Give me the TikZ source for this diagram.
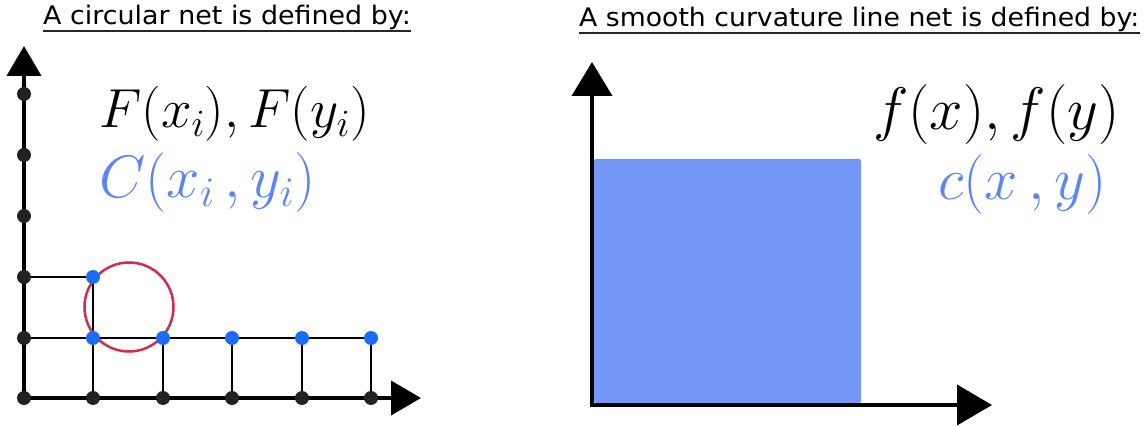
\RequirePackage{fix-cm}
\documentclass[tikz,border=0pt]{standalone}
\usepackage{fontspec}
\setsansfont{DejaVu Sans}
\usetikzlibrary{arrows.meta}
\definecolor{dotblue}{HTML}{1A6CF2}
\definecolor{txtblue}{HTML}{5B86F2}
\definecolor{rectblue}{HTML}{7497F5}
\definecolor{circred}{HTML}{D42A4E}
\definecolor{dotblack}{HTML}{222222}
\tikzset{
  axisline/.style={line width=4pt, line cap=butt},
  gridline/.style={line width=1.8pt, black},
  bdot/.style={circle, fill=dotblack, inner sep=0pt, minimum size=14pt},
  udot/.style={circle, fill=dotblue, inner sep=0pt, minimum size=14pt},
  titletext/.style={inner sep=0pt, anchor=base west, font=\sffamily\fontsize{25.5}{30}\selectfont},
  uline/.style={line width=1.8pt, black!85},
  mathtext/.style={inner sep=0pt, anchor=base west},
}
\begin{document}
\begin{tikzpicture}[x=1pt,y=-1pt]
\useasboundingbox (0,0) rectangle (1148,427);
% titles
\node[titletext] (t1) at (43,25) {\scalebox{1.055}[1]{A circular net is defined by:}};
\node[titletext] (t2) at (579,27) {\scalebox{1.047}[1]{A smooth curvature line net is defined by:}};
\draw[uline] ([yshift=-6pt]t1.base west) -- ([yshift=-6pt]t1.base east);
\draw[uline] ([yshift=-6pt]t2.base west) -- ([yshift=-6pt]t2.base east);
% ---- left diagram ----
\foreach \n/\y in {1/94,2/155,3/216,4/277,5/338}{\coordinate (v\n) at (24,\y);}
\foreach \n/\x in {1/93,2/163,3/232,4/302,5/371}{\coordinate (h\n) at (\x,398); \coordinate (m\n) at (\x,338);}
\coordinate (o) at (24,398);
\coordinate (p) at (93,277);
\coordinate (ytip) at (24,46);
\coordinate (xtip) at (421,398);
% grid lines
\draw[gridline] (v4) -- (p) -- (h1);
\draw[gridline] (v5) -- (m5);
\foreach \n in {2,3,4,5}{\draw[gridline] (m\n) -- (h\n);}
% circle
\draw[circred, line width=2.5pt] (129,307) circle[radius=44.5];
% axes
\draw[axisline, -{Triangle[length=30pt,width=34pt]}] (24,400) -- (ytip);
\draw[axisline, -{Triangle[length=30pt,width=34pt]}] (22,398) -- (xtip);
% dots
\node[bdot] (do) at (o) {};
\foreach \n in {1,...,5}{\node[bdot] (dv\n) at (v\n) {}; \node[bdot] (dh\n) at (h\n) {}; \node[udot] (dm\n) at (m\n) {};}
\node[udot] (dp) at (p) {};
% texts
\node[mathtext] (F) at (99,128) {\fontsize{55}{60}\selectfont$F(x_i),F(y_i)$};
\node[mathtext, text=txtblue] (C) at (99,198) {\fontsize{60}{66}\selectfont$C(x_i\,,y_i)$};
% ---- right diagram ----
\fill[rectblue, rounded corners=2pt] (594,159) rectangle (861,403);
\coordinate (ro) at (592,405);
\coordinate (rytip) at (592,62);
\coordinate (rxtip) at (992,405);
\draw[axisline, -{Triangle[length=34pt,width=40pt]}] (592,407) -- (rytip);
\draw[axisline, -{Triangle[length=35pt,width=40pt]}] (590,405) -- (rxtip);
\node[mathtext] (f) at (873,130) {\fontsize{60}{66}\selectfont$f(x),f(y)$};
\node[mathtext, text=txtblue] (c) at (938,200) {\fontsize{60}{66}\selectfont$c(x\,,y)$};
\end{tikzpicture}
\end{document}
